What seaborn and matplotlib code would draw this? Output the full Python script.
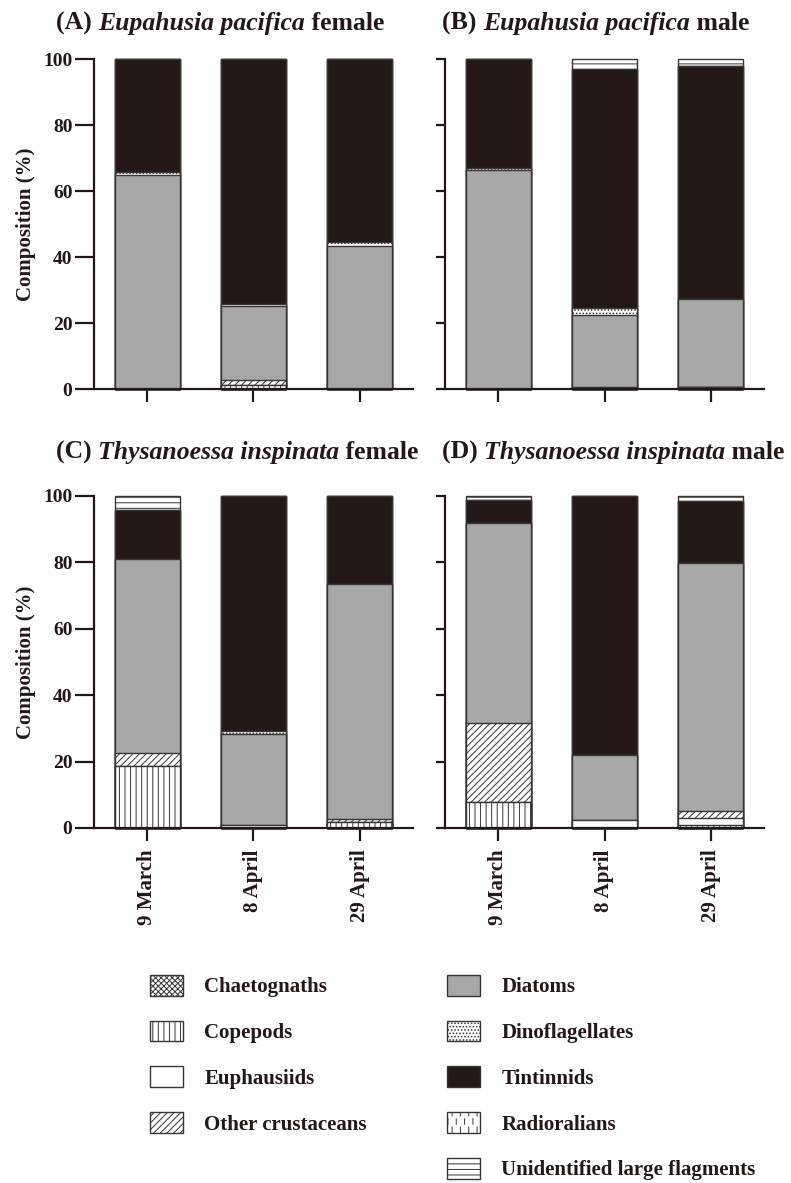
import matplotlib
matplotlib.use("Agg")
import matplotlib.pyplot as plt
import matplotlib.hatch as mhatch
from matplotlib.path import Path
from matplotlib.patches import Patch
import numpy as np
import seaborn as sns

# ---- data: diet composition (%) by sampling date ----
dates = ["9 March", "8 April", "29 April"]
groups = ["Chaetognaths", "Copepods", "Euphausiids", "Other crustaceans",
          "Diatoms", "Dinoflagellates", "Tintinnids", "Radioralians",
          "Unidentified large flagments"]

# rows = dates, columns follow `groups`
ep_female = [[0, 0.0, 0.0, 0.0, 64.8, 1.0, 34.2, 0, 0.0],
             [0, 1.3, 0.0, 1.4, 22.6, 0.4, 74.3, 0, 0.0],
             [0, 0.0, 0.0, 0.0, 43.3, 1.3, 55.4, 0, 0.0]]
ep_male = [[0, 0.0, 0.0, 0.0, 66.4, 0.7, 32.9, 0, 0.0],
           [0, 0.0, 0.0, 0.6, 21.7, 2.2, 72.5, 0, 3.0],
           [0, 0.5, 0.0, 0.0, 26.9, 0.0, 70.4, 0, 2.2]]
ti_female = [[0, 18.6, 0.0, 4.1, 58.3, 0.0, 14.8, 0, 4.2],
             [0, 0.0, 0.8, 0.0, 27.6, 0.8, 70.8, 0, 0.0],
             [0, 1.8, 0.0, 0.8, 70.9, 0.0, 26.5, 0, 0.0]]
ti_male = [[0, 7.8, 0.0, 23.7, 60.3, 0.0, 6.9, 0, 1.3],
           [0, 0.0, 2.5, 0.0, 19.5, 0.0, 78.0, 0, 0.0],
           [0, 0.8, 2.3, 1.9, 74.9, 0.0, 18.7, 0, 1.4]]

panels = [("(A) ", "Eupahusia pacifica", " female", ep_female),
          ("(B) ", "Eupahusia pacifica", " male", ep_male),
          ("(C) ", "Thysanoessa inspinata", " female", ti_female),
          ("(D) ", "Thysanoessa inspinata", " male", ti_male)]


# staggered short vertical dashes, used for the radiolarian fill ('*')
class ShortDashes(mhatch.HatchPatternBase):
    def __init__(self, hatch, density):
        self.n = int(hatch.count("*") * density)
        self.num_vertices = 2 * self.n * self.n

    def set_vertices_and_codes(self, vertices, codes):
        n = self.n
        k = 0
        for r in range(n):
            for c in range(n):
                x = (c + 0.25 + 0.5 * (r % 2)) / n
                vertices[k] = (x, (r + 0.1) / n)
                vertices[k + 1] = (x, (r + 0.75) / n)
                codes[k] = Path.MOVETO
                codes[k + 1] = Path.LINETO
                k += 2


mhatch._hatch_types[mhatch._hatch_types.index(mhatch.Stars)] = ShortDashes

# ---- styles ----
INK = "#231815"
EDGE = "#3a3434"
fills = {"Chaetognaths": ("white", "xxxxxx"),
         "Copepods": ("white", "|||"),
         "Euphausiids": ("white", ""),
         "Other crustaceans": ("white", "/////"),
         "Diatoms": ("#a7a7a7", ""),
         "Dinoflagellates": ("white", "....."),
         "Tintinnids": (INK, ""),
         "Radioralians": ("white", "**"),
         "Unidentified large flagments": ("white", "---")}

sns.set_theme(style="ticks")
plt.rcParams["font.family"] = ["Liberation Serif", "DejaVu Serif"]
plt.rcParams["font.weight"] = "bold"
plt.rcParams["hatch.linewidth"] = 0.7
plt.rcParams["hatch.color"] = INK

W, H = 791, 1183
fig = plt.figure(figsize=(W / 100, H / 100), dpi=100)


def add_axes_px(x0, y0, x1, y1):
    return fig.add_axes([x0 / W, 1 - y1 / H, (x1 - x0) / W, (y1 - y0) / H])


boxes = [(94, 59, 413, 389), (445, 59, 764, 389),
         (94, 496, 413, 828), (445, 496, 764, 828)]
title_base = [30, 30, 459, 459]

renderer = fig.canvas.get_renderer()


def draw_title(x_px, y_px, pieces, size=18.5):
    for txt, style in pieces:
        t = fig.text(x_px / W, 1 - y_px / H, txt, fontsize=size,
                     fontweight="bold", fontstyle=style, color=INK,
                     ha="left", va="baseline")
        x_px += t.get_window_extent(renderer).width


for i, ((tag, species, sex, table), box) in enumerate(zip(panels, boxes)):
    ax = add_axes_px(*box)
    vals = np.array(table, dtype=float)
    cum = np.cumsum(vals, axis=1)
    # stacked bars: draw cumulative totals from the top layer down
    for j in range(len(groups) - 1, -1, -1):
        fc, hatch = fills[groups[j]]
        sns.barplot(x=dates, y=cum[:, j], order=dates, ax=ax, color=fc,
                    saturation=1, hatch=hatch, edgecolor=EDGE, linewidth=1.0,
                    width=0.61, errorbar=None)
    for p in ax.patches:
        p.set_clip_on(False)
    ax.set_ylim(0, 100)
    ax.set_xlim(-0.5, 2.5)
    ax.set_yticks(range(0, 101, 20))
    ax.set_xlabel("")
    ax.set_ylabel("")
    sns.despine(ax=ax)
    for s in ("left", "bottom"):
        ax.spines[s].set_linewidth(1.6)
        ax.spines[s].set_color(INK)
    left_col = i % 2 == 0
    ax.tick_params(axis="y", direction="out",
                   length=13.5 if left_col else 6.5, width=1.6,
                   color=INK, labelsize=14, labelcolor=INK, pad=2)
    ax.tick_params(axis="x", direction="out", length=9.5, width=1.6,
                   color=INK, labelsize=15, labelcolor=INK, pad=6)
    if left_col:
        ax.set_ylabel("Composition (%)", fontsize=15, fontweight="bold",
                      color=INK, labelpad=5)
    else:
        ax.set_yticklabels([])
    if i < 2:
        ax.set_xticklabels([])
    else:
        ax.set_xticklabels(dates, rotation=90, fontweight="bold")
    tx = 56 if left_col else 442
    draw_title(tx, title_base[i], [(tag, "normal"), (species, "italic"),
                                   (sex, "normal")])


# ---- legend (two columns) ----
def handles(names):
    out = []
    for n in names:
        fc, hatch = fills[n]
        out.append(Patch(facecolor=fc, edgecolor=EDGE, hatch=hatch,
                         linewidth=1.0, label=n))
    return out


leg_kw = dict(frameon=False, fontsize=15, handlelength=1.6, handleheight=1.15,
              handletextpad=1.0, labelspacing=1.12, borderpad=0,
              borderaxespad=0, loc="upper left")
leg1 = fig.legend(handles=handles(groups[:4]),
                  bbox_to_anchor=(150 / W, 1 - 975 / H), **leg_kw)
leg2 = fig.legend(handles=handles(groups[4:]),
                  bbox_to_anchor=(447 / W, 1 - 975 / H), **leg_kw)
for lg in (leg1, leg2):
    for t in lg.get_texts():
        t.set_color(INK)
        t.set_fontweight("bold")

fig.savefig("out.png", dpi=100)
